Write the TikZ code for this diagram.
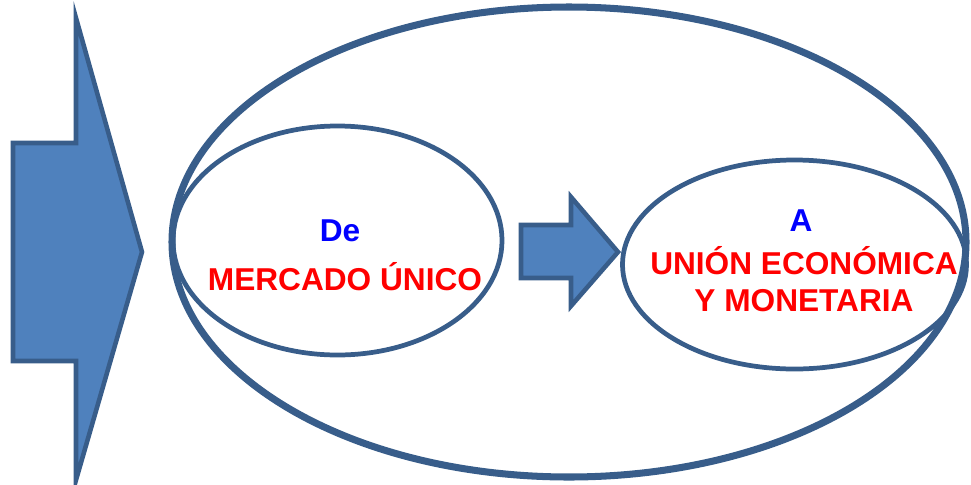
\documentclass[tikz,border=0pt]{standalone}
\usepackage{fontspec}
\setmainfont{Liberation Sans}
\definecolor{fillblue}{HTML}{4F81BD}
\definecolor{lineblue}{HTML}{385D8A}
\tikzset{
  bigarrow/.style={fill=fillblue, draw=lineblue, line width=2.6pt, line join=miter},
  ring/.style={draw=lineblue, line width=2.7pt},
  titletext/.style={text=blue, font=\bfseries\fontsize{18}{21}\selectfont},
  bodytext/.style={text=red, font=\bfseries\fontsize{18}{21}\selectfont, align=center}
}
\begin{document}
\begin{tikzpicture}[x=0.02cm, y=-0.02cm]
\useasboundingbox (0,0) rectangle (971,484);
% outer ellipse
\draw[ring, line width=4pt] (569,242) ellipse (397 and 235);
% the two stages
\draw[ring] (337.5,240.5) ellipse (164.5 and 114.5);
\draw[ring] (794.5,264.5) ellipse (172 and 104.5);
% block arrows
\draw[bigarrow] (13,143)--(76,143)--(76,18)--(142,252)--(76,480)--(76,361)--(13,361)--cycle;
\draw[bigarrow] (521,225)--(571,225)--(571,197)--(618,252)--(571,306)--(571,278)--(521,278)--cycle;

\node[titletext] (de) at (340,231) {De};
\node[bodytext] (mercado) at (345,277) {MERCADO ÚNICO};
\node[titletext] (a) at (801,221) {A};
\node[bodytext] (union) at (804,279) {UNIÓN ECONÓMICA\\Y MONETARIA};
\end{tikzpicture}
\end{document}
